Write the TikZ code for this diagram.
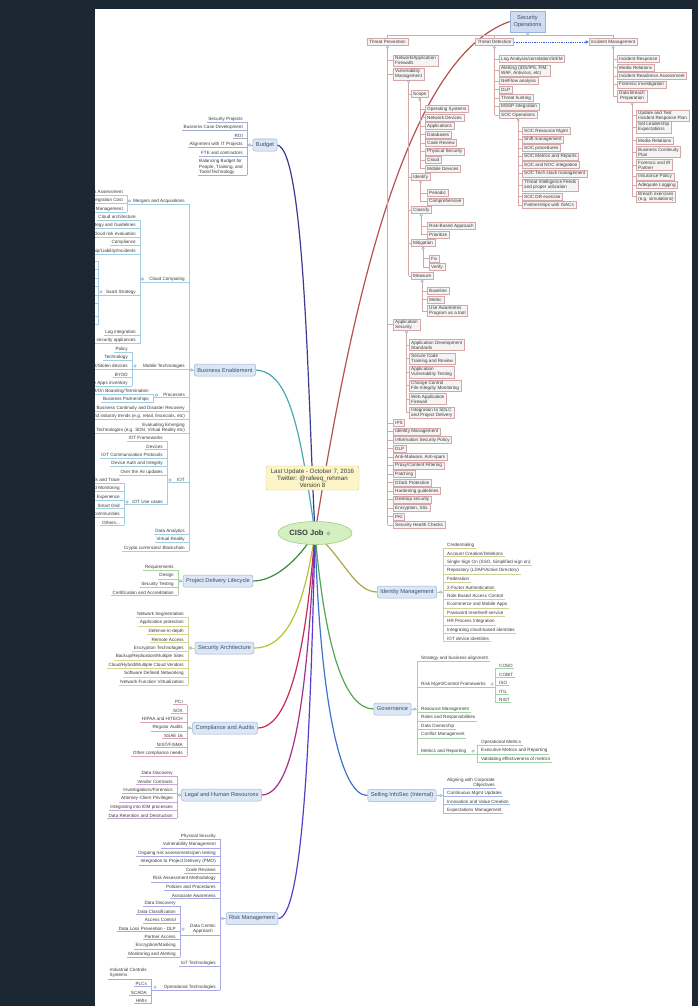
\documentclass[tikz,border=0pt]{standalone}
\usepackage{fontspec}
\setmainfont{Liberation Sans}
\usetikzlibrary{calc,arrows.meta,shapes.geometric,backgrounds}
\definecolor{bgdark}{HTML}{1B2733}
\definecolor{txt}{HTML}{3C3C3C}
\definecolor{topictxt}{HTML}{3E4E6C}
\definecolor{topicfill}{HTML}{DCE7F5}
\definecolor{topicline}{HTML}{9DB2D4}
\definecolor{soline}{HTML}{D4A8A8}
\definecolor{sofill}{HTML}{F5F3F3}
\definecolor{sotop}{HTML}{D0DDF1}
\definecolor{icoline}{HTML}{8FAAD2}
\definecolor{icofill}{HTML}{D3E0F2}
\definecolor{cBud}{HTML}{A4AECF}
\definecolor{cBE}{HTML}{A3CDE0}
\definecolor{cPD}{HTML}{ABD0A2}
\definecolor{cSA}{HTML}{D3D693}
\definecolor{cCA}{HTML}{DDA6B2}
\definecolor{cLH}{HTML}{C9A6D5}
\definecolor{cRM}{HTML}{A9A9E6}
\definecolor{cIM}{HTML}{CFD096}
\definecolor{cGV}{HTML}{A3D2A3}
\definecolor{cSI}{HTML}{A3B9E6}
\definecolor{kSO}{HTML}{B5524F}
\definecolor{kBud}{HTML}{3A3D8F}
\definecolor{kBE}{HTML}{4AA8B0}
\definecolor{kPD}{HTML}{3C8A3C}
\definecolor{kSA}{HTML}{B9C232}
\definecolor{kCA}{HTML}{C42A52}
\definecolor{kLH}{HTML}{A2308F}
\definecolor{kRM}{HTML}{5A3CC8}
\definecolor{kIM}{HTML}{A9A948}
\definecolor{kGV}{HTML}{52A852}
\definecolor{kSI}{HTML}{4272C8}
\definecolor{notefill}{HTML}{FCF5C8}
\definecolor{noteline}{HTML}{D8CB8C}
\definecolor{cisofill}{HTML}{D4EFC0}
\definecolor{cisoline}{HTML}{9FCB84}
\definecolor{arrowblue}{HTML}{3A5CCC}
\tikzset{
 itm/.style={font=\fontsize{4.6}{5.2}\selectfont, inner xsep=0.5pt, inner ysep=0.9pt, text=txt},
 bl/.style={line width=0.5pt},
 sobox/.style={draw=soline, fill=sofill, line width=0.45pt, font=\fontsize{4.6}{5.2}\selectfont, inner xsep=2pt, inner ysep=1pt, minimum height=7pt, align=left, text=txt},
 sl/.style={draw=soline, line width=0.5pt},
 topic/.style={draw=topicline, fill=topicfill, rounded corners=2pt, line width=0.5pt, font=\fontsize{5.7}{6.5}\selectfont, inner xsep=3pt, inner ysep=1pt, minimum height=12pt, text=topictxt},
 ico/.style={draw=icoline, fill=icofill, line width=0.3pt},
 bigcurve/.style={line width=1.2pt},
}
\newcommand\LI[5][]{\node[itm,anchor=east,#1] (#2) at (#3-3.5,#4) {#5};
  \draw[bl] ([xshift=-1pt]#2.south west) -- ([xshift=3.5pt]#2.south east);}
\newcommand\RI[5][]{\node[itm,anchor=west,#1] (#2) at (#3+3.5,#4) {#5};
  \draw[bl] ([xshift=-3.5pt]#2.south west) -- ([xshift=1pt]#2.south east);}
\newcommand\LT[2]{\draw[bl] ([xshift=3.5pt]#1.south east) -- ([xshift=3.5pt]#2.south east);}
\newcommand\RT[2]{\draw[bl] ([xshift=-3.5pt]#1.south west) -- ([xshift=-3.5pt]#2.south west);}
\newcommand\LX[2]{\draw[bl] (#1.south west) -- (#1.south west -| #2);}
\newcommand\RX[2]{\draw[bl] (#1.south east) -- (#1.south east -| #2);}
\newcommand\ICO[2]{\filldraw[ico] (#1,#2) circle (1.3pt);}
\newcommand\DOT[1]{\filldraw[ico] ([yshift=-1.6pt]#1.south) circle (1.3pt);}
\newcommand\SB[6][]{\node[sobox,anchor=west,#1] (#2) at (#4,#5) {#6}; \draw[sl] (#2.west) -- (#2.west -| #3.south);}
\begin{document}
\begin{tikzpicture}[x=1pt,y=-1pt]
\useasboundingbox (0,0) rectangle (698,1006);

% ================= SECURITY OPERATIONS =================
\node[sobox, draw=topicline, fill=sotop, align=center, font=\fontsize{5.7}{6.6}\selectfont, text=topictxt, minimum width=35pt, minimum height=21pt] (so) at (527.5,21.5) {Security\\Operations};
\node[sobox] (tp) at (387.5,42) {Threat Prevention};
\node[sobox] (td) at (494.5,42) {Threat Detection};
\node[sobox] (imb) at (613,42) {Incident Management};
\coordinate (soh) at (0,35.2);
\draw[sl] (so.south) -- (so.south |- soh);
\draw[sl] (tp.north |- soh) -- (imb.north |- soh);
\draw[sl] (tp.north) -- (tp.north |- soh);
\draw[sl] (td.north) -- (td.north |- soh);
\draw[sl] (imb.north) -- (imb.north |- soh);
\draw[arrowblue, dash pattern=on 1pt off 0.8pt, line width=0.6pt, -{Triangle[length=3pt,width=3pt]}] (td.east) -- (imb.west);

\SB{tp1}{tp}{393}{60.5}{Network/Application\\Firewalls}
\SB{tp2}{tp}{393}{74}{Vulnerability\\Management}
\SB{sc}{tp2}{411}{94}{Scope}
\SB{sc1}{sc}{425}{109}{Operating Systems}
\SB{sc2}{sc}{425}{117.5}{Network Devices}
\SB{sc3}{sc}{425}{126}{Applications}
\SB{sc4}{sc}{425}{134.5}{Databases}
\SB{sc5}{sc}{425}{143}{Code Review}
\SB{sc6}{sc}{425}{151.5}{Physical Security}
\SB{sc7}{sc}{425}{160}{Cloud}
\SB{sc8}{sc}{425}{168.5}{Mobile Devices}
\SB{idf}{tp2}{411}{177}{Identify}
\SB{idf1}{idf}{427}{193}{Periodic}
\SB{idf2}{idf}{427}{201.5}{Comprehensive}
\SB{cls}{tp2}{411}{210}{Classify}
\SB{cls1}{cls}{427}{226}{Risk-Based Approach}
\SB{cls2}{cls}{427}{234.5}{Prioritize}
\SB{mit}{tp2}{411}{243}{Mitigation}
\SB{mit1}{mit}{429}{258.5}{Fix}
\SB{mit2}{mit}{429}{267}{Verify}
\SB{mea}{tp2}{411}{276}{Measure}
\SB{mea1}{mea}{427}{291}{Baseline}
\SB{mea2}{mea}{427}{299.5}{Metric}
\SB{mea3}{mea}{427}{311}{Use Awareness\\Program as a tool}
\SB{as}{tp}{393}{324.5}{Application\\Security}
\SB{as1}{as}{409}{345}{Application Development\\Standards}
\SB{as2}{as}{409}{358.5}{Secure Code\\Training and Review}
\SB{as3}{as}{409}{372}{Application\\Vulnerability Testing}
\SB{as4}{as}{409}{385.5}{Change Control\\File Integrity Monitoring}
\SB{as5}{as}{409}{399}{Web Application\\Firewall}
\SB{as6}{as}{409}{412.5}{Integration to SDLC\\and Project Delivery}
\foreach \n/\y/\t in {tpa/423/{IPS},tpb/431.5/{Identity Management},tpc/440/{Information Security Policy},tpd/448.5/{DLP},tpe/457/{Anti-Malware, Anti-spam},tpf/465.5/{Proxy/Content Filtering},tpg/474/{Patching},tph/482.5/{DDoS Protection},tpi/491/{Hardening guidelines},tpj/499.5/{Desktop security},tpk/508/{Encryption, SSL},tpl/516.5/{PKI},tpm/525/{Security Health Checks}}
  {\SB{\n}{tp}{393}{\y}{\t}}
\draw[sl] (tp.south) -- (tp.south |- tpm.west);
\draw[sl] (tp2.south) -- (tp2.south |- mea.west);
\draw[sl] (sc.south) -- (sc.south |- sc8.west);
\draw[sl] (idf.south) -- (idf.south |- idf2.west);
\draw[sl] (cls.south) -- (cls.south |- cls2.west);
\draw[sl] (mit.south) -- (mit.south |- mit2.west);
\draw[sl] (mea.south) -- (mea.south |- mea3.west);
\draw[sl] (as.south) -- (as.south |- as6.west);

\SB{td1}{td}{499}{59}{Log Analysis/correlation/SIEM}
\SB{td2}{td}{499}{70.5}{Alerting (IDS/IPS, FIM,\\WAF, Antivirus, etc)}
\SB{td3}{td}{499}{81}{NetFlow analysis}
\SB{td4}{td}{499}{89.5}{DLP}
\SB{td5}{td}{499}{98}{Threat hunting}
\SB{td6}{td}{499}{106.5}{MSSP integration}
\SB{td7}{td}{499}{115}{SOC Operations}
\SB{soc1}{td7}{522}{131}{SOC Resource Mgmt}
\SB{soc2}{td7}{522}{139.5}{Shift management}
\SB{soc3}{td7}{522}{148}{SOC procedures}
\SB{soc4}{td7}{522}{156.5}{SOC Metrics and Reports}
\SB{soc5}{td7}{522}{165}{SOC and NOC integration}
\SB{soc6}{td7}{522}{173.5}{SOC Tech stack management}
\SB{soc7}{td7}{522}{185}{Threat Intelligence Feeds\\and proper utilization}
\SB{soc8}{td7}{522}{196.5}{SOC DR exercise}
\SB{soc9}{td7}{522}{205}{Partnerships with ISACs}
\draw[sl] (td.south) -- (td.south |- td7.west);
\draw[sl] (td7.south) -- (td7.south |- soc9.west);

\SB{ir1}{imb}{617}{59}{Incident Response}
\SB{ir2}{imb}{617}{67.5}{Media Relations}
\SB{ir3}{imb}{617}{76}{Incident Readiness Assessment}
\SB{ir4}{imb}{617}{84.5}{Forensic Investigation}
\SB[align=center]{ir5}{imb}{617}{96}{Data Breach\\Preparation}
\SB{db1}{ir5}{636}{115.5}{Update and Test\\Incident Response Plan}
\SB{db2}{ir5}{636}{127}{Set Leadership\\Expectations}
\SB{db3}{ir5}{636}{140.5}{Media Relations}
\SB{db4}{ir5}{636}{152}{Business Continuity\\Plan}
\SB{db5}{ir5}{636}{165}{Forensic and IR\\Partner}
\SB{db6}{ir5}{636}{176.5}{Insurance Policy}
\SB{db7}{ir5}{636}{185}{Adequate Logging}
\SB{db8}{ir5}{636}{196.5}{Breach exercises\\(e.g. simulations)}
\draw[sl] (imb.south) -- (imb.south |- ir5.west);
\draw[sl] (ir5.south) -- (ir5.south |- db8.west);
\foreach \n in {so,tp,td,imb,tp2,sc,idf,cls,mit,mea,as,td7,ir5} {\DOT{\n}}

% ================= BUDGET =================
\begin{scope}[cBud]
\coordinate (bgT) at (247,0);
\foreach \n/\y/\t in {bg1/119/{Security Projects},bg2/127.5/{Business Case Development},bg3/136/{ROI},bg4/144.5/{Alignment with IT Projects},bg5/153/{FTE and contractors}}
  {\LI{\n}{247}{\y}{\t}}
\LI[align=left]{bg6}{247}{167}{Balancing Budget for\\People, Training, and\\Tools/Technology}
\LT{bg1}{bg6}
\node[topic] (bud) at (265,145) {Budget};
\draw[bl] (bud.west) -- (bud.west -| bgT);
\ICO{249.5}{145}
\end{scope}

% ================= BUSINESS ENABLEMENT =================
\begin{scope}[cBE]
\coordinate (beT) at (189,0); \coordinate (maT) at (127,0); \coordinate (ccT) at (140,0);
\coordinate (ssT) at (98,0); \coordinate (mtT) at (132,0); \coordinate (prT) at (153,0);
\coordinate (ioT) at (167,0); \coordinate (iuT) at (124,0);
\foreach \n/\y/\t in {ma/201/{Mergers and Acquisitions},cc/279/{Cloud Computing},mt/366/{Mobile Technologies},pr/395/{Processes},be1/408/{Business Continuity and Disaster Recovery},be2/416.5/{Understand industry trends (e.g. retail, financials, etc)},io/480/{IOT},be4/531/{Data Analytics},be5/539.5/{Virtual Reality},be6/548/{Crypto currencies/ Blockchain}}
  {\LI{\n}{189}{\y}{\t}}
\LI[align=right]{be3}{189}{427.5}{Evaluating Emerging\\Technologies (e.g. SDN, Virtual Reality etc)}
\LT{ma}{be6}
\LX{ma}{maT} \LX{cc}{ccT} \LX{mt}{mtT} \LX{pr}{prT} \LX{io}{ioT}
\foreach \n/\y/\t in {ma1/192/{Acquisition Risk Assessment},ma2/200.5/{Integration Cost},ma3/209/{Identity Management}}
  {\LI{\n}{127}{\y}{\t}}
\LT{ma1}{ma3}
\foreach \n/\y/\t in {cc1/217/{Cloud architecture},cc2/225.5/{Strategy and Guidelines},cc3/234/{Cloud risk evaluation},cc4/242.5/{Compliance},cc5/251/{Ownership/Liability/Incidents},cc6/292/{SaaS Strategy},cc7/332/{Log integration},cc8/340.5/{Virtualized security appliances}}
  {\LI{\n}{140}{\y}{\t}}
\LT{cc1}{cc8}
\LX{cc6}{ssT}
\foreach \n/\y/\t in {ss1/258/{Vendor's Financial Strength},ss2/266.5/{SLAs},ss3/275/{Infrastructure Audit},ss4/283.5/{Proof of Application Security},ss5/292/{Disaster Recovery Posture},ss6/300.5/{Application Architecture},ss8/321.5/{SaaS Policy and Guidelines}}
  {\LI{\n}{98}{\y}{\t}}
\LI[align=right]{ss7}{98}{310.5}{Integration of Identity\\Management/Federation/SSO}
\LT{ss1}{ss8}
\foreach \n/\y/\t in {mt1/349/{Policy},mt2/357.5/{Technology},mt3/366/{Lost/Stolen devices},mt4/374.5/{BYOD},mt5/383/{Mobile Apps inventory}}
  {\LI{\n}{132}{\y}{\t}}
\LT{mt1}{mt5}
\foreach \n/\y/\t in {pr1/391/{HR/On Boarding/Termination},pr2/399.5/{Business Partnerships}}
  {\LI{\n}{153}{\y}{\t}}
\LT{pr1}{pr2}
\foreach \n/\y/\t in {io1/438/{IOT Frameworks},io2/446.5/{Devices},io3/455/{IOT Communication Protocols},io4/463.5/{Device Auth and Integrity},io5/472/{Over the Air updates},io6/502/{IOT Use cases}}
  {\LI{\n}{167}{\y}{\t}}
\LT{io1}{io6}
\LX{io6}{iuT}
\foreach \n/\y/\t in {iu1/480/{Track and Trace},iu2/488.5/{Condition Based Monitoring},iu3/497/{Customer Experience},iu4/505.5/{Smart Grid},iu5/514/{Smart Cities / Communities},iu6/522.5/{Others...}}
  {\LI{\n}{124}{\y}{\t}}
\LT{iu1}{iu6}
\node[topic] (be) at (225,370) {Business Enablement};
\draw[bl] (be.west) -- (be.west -| beT);
\ICO{191.5}{370} \ICO{129.5}{201} \ICO{142.5}{279} \ICO{101}{292} \ICO{135}{366}
\ICO{156.5}{395} \ICO{170}{480} \ICO{127}{502}
\end{scope}

% ================= PROJECT DELIVERY =================
\begin{scope}[cPD]
\coordinate (pdT) at (178,0);
\foreach \n/\y/\t in {pd1/567/{Requirements},pd2/575.5/{Design},pd3/584/{Security Testing},pd4/592.5/{Certification and Accreditation}}
  {\LI{\n}{178}{\y}{\t}}
\LT{pd1}{pd4}
\node[topic] (pdl) at (218,581) {Project Delivery Lifecycle};
\draw[bl] (pdl.west) -- (pdl.west -| pdT);
\ICO{180.5}{581}
\end{scope}

% ================= SECURITY ARCHITECTURE =================
\begin{scope}[cSA]
\coordinate (saT) at (188,0);
\foreach \n/\y/\t in {sa1/614/{Network Segmentation},sa2/622.5/{Application protection},sa3/631/{Defense-in-depth},sa4/639.5/{Remote Access},sa5/648/{Encryption Technologies},sa6/656.5/{Backup/Replication/Multiple Sites},sa7/665/{Cloud/Hybrid/Multiple Cloud Vendors},sa8/673.5/{Software Defined Networking},sa9/682/{Network Function Virtualization}}
  {\LI{\n}{188}{\y}{\t}}
\LT{sa1}{sa9}
\node[topic] (sa) at (224.5,648) {Security Architecture};
\draw[bl] (sa.west) -- (sa.west -| saT);
\ICO{190.5}{648}
\end{scope}

% ================= COMPLIANCE =================
\begin{scope}[cCA]
\coordinate (caT) at (187,0);
\foreach \n/\y/\t in {ca1/702/{PCI},ca2/710.5/{SOX},ca3/719/{HIPAA and HITECH},ca4/727.5/{Regular Audits},ca5/736/{SSAE 16},ca6/744.5/{NIST/FISMA},ca7/753/{Other compliance needs}}
  {\LI{\n}{187}{\y}{\t}}
\LT{ca1}{ca7}
\node[topic] (ca) at (225,728) {Compliance and Audits};
\draw[bl] (ca.west) -- (ca.west -| caT);
\ICO{189.5}{728}
\end{scope}

% ================= LEGAL =================
\begin{scope}[cLH]
\coordinate (lhT) at (177,0);
\foreach \n/\y/\t in {lh1/773/{Data Discovery},lh2/781.5/{Vendor Contracts},lh3/790/{Investigations/Forensics},lh4/798.5/{Attorney-Client Privileges},lh5/807/{Integrating into IDM processes},lh6/815.5/{Data Retention and Destruction}}
  {\LI{\n}{177}{\y}{\t}}
\LT{lh1}{lh6}
\node[topic] (lh) at (221.5,795) {Legal and Human Resources};
\draw[bl] (lh.west) -- (lh.west -| lhT);
\ICO{179.5}{795}
\end{scope}

% ================= RISK MANAGEMENT =================
\begin{scope}[cRM]
\coordinate (rmT) at (220,0); \coordinate (dcT) at (180,0); \coordinate (otT) at (151,0);
\foreach \n/\y/\t in {rm1/836/{Physical Security},rm2/844.5/{Vulnerability Management},rm3/853/{Ongoing risk assessments/pen testing},rm4/861.5/{Integration to Project Delivery (PMO)},rm5/870/{Code Reviews},rm6/878.5/{Risk Assessment Methodology},rm7/887/{Policies and Procedures},rm8/895.5/{Associate Awareness},rm10/963/{IoT Technologies},rm11/987/{Operational Technologies}}
  {\LI{\n}{220}{\y}{\t}}
\LI[align=center]{rm9}{220}{929}{Data Centric\\Approach}
\LT{rm1}{rm11}
\LX{rm9}{dcT} \LX{rm11}{otT}
\foreach \n/\y/\t in {dc1/903/{Data Discovery},dc2/911.5/{Data Classification},dc3/920/{Access Control},dc4/928.5/{Data Loss Prevention - DLP},dc5/937/{Partner Access},dc6/945.5/{Encryption/Masking},dc7/954/{Monitoring and Alerting}}
  {\LI{\n}{180}{\y}{\t}}
\LT{dc1}{dc7}
\LI[align=left]{ot1}{151}{973}{Industrial Controls\\Systems}
\foreach \n/\y/\t in {ot2/984/{PLCs},ot3/992.5/{SCADA},ot4/1001/{HMIs}}
  {\LI{\n}{151}{\y}{\t}}
\LT{ot1}{ot4}
\node[topic] (rm) at (252,918.5) {Risk Management};
\draw[bl] (rm.west) -- (rm.west -| rmT);
\ICO{222.5}{918.5} \ICO{183}{929} \ICO{155}{987}
\end{scope}

% ================= IDENTITY MANAGEMENT =================
\begin{scope}[cIM]
\coordinate (ixT) at (443,0);
\foreach \n/\y/\t in {ix1/545/{Credentialing},ix2/553.5/{Account Creation/Deletions},ix3/562/{Single Sign On (SSO, Simplified sign on)},ix4/570.5/{Repository (LDAP/Active Directory)},ix5/579/{Federation},ix6/587.5/{2-Factor Authentication},ix7/596/{Role Based Access Control},ix8/604.5/{Ecommerce and Mobile Apps},ix9/613/{Password reset/self-service},ix10/621.5/{HR Process Integration},ix11/630/{Integrating cloud-based identities},ix12/638.5/{IOT device identities}}
  {\RI{\n}{443}{\y}{\t}}
\RT{ix1}{ix12}
\node[topic] (imt) at (407,592) {Identity Management};
\draw[bl] (imt.east) -- (imt.east -| ixT);
\ICO{440.5}{592}
\end{scope}

% ================= GOVERNANCE =================
\begin{scope}[cGV]
\coordinate (gvT) at (417,0); \coordinate (rfT) at (495,0); \coordinate (mrT) at (477,0);
\foreach \n/\y/\t in {gv1/658/{Strategy and business alignment},gv2/684/{Risk Mgmt/Control Frameworks},gv3/709/{Resource Management},gv4/717.5/{Roles and Responsibilities},gv5/726/{Data Ownership},gv6/734.5/{Conflict Management},gv7/751/{Metrics and Reporting}}
  {\RI{\n}{417}{\y}{\t}}
\RT{gv1}{gv7}
\RX{gv2}{rfT} \RX{gv7}{mrT}
\foreach \n/\y/\t in {rf1/666/{COSO},rf2/674.5/{COBIT},rf3/683/{ISO},rf4/691.5/{ITIL},rf5/700/{NIST}}
  {\RI{\n}{495}{\y}{\t}}
\RT{rf1}{rf5}
\foreach \n/\y/\t in {mr1/742/{Operational Metrics},mr2/750.5/{Executive Metrics and Reporting},mr3/759/{Validating effectiveness of metrics}}
  {\RI{\n}{477}{\y}{\t}}
\RT{mr1}{mr3}
\node[topic] (gv) at (392.5,709) {Governance};
\draw[bl] (gv.east) -- (gv.east -| gvT);
\ICO{414.5}{709} \ICO{492}{684} \ICO{473}{751}
\end{scope}

% ================= SELLING INFOSEC =================
\begin{scope}[cSI]
\coordinate (siT) at (443,0);
\RI[align=right]{si1}{443}{782.5}{Aligning with Corporate\\Objectives}
\foreach \n/\y/\t in {si2/793/{Continuous Mgmt Updates},si3/801.5/{Innovation and Value Creation},si4/810/{Expectations Management}}
  {\RI{\n}{443}{\y}{\t}}
\RT{si1}{si4}
\node[topic] (si) at (402,795.5) {Selling InfoSec (Internal)};
\draw[bl] (si.east) -- (si.east -| siT);
\ICO{440.5}{795.5}
\end{scope}

% ================= CENTER =================
\node[draw=noteline, fill=notefill, rounded corners=2pt, align=center, font=\fontsize{6.2}{7.2}\selectfont, text=txt, minimum width=93pt, minimum height=24pt, inner sep=1pt] (note) at (312.5,478) {Last Update - October 7, 2016\\Twitter: @rafeeq\_rehman\\Version 8};
\node[ellipse, draw=cisoline, fill=cisofill, line width=0.6pt, minimum width=74pt, minimum height=23pt, inner sep=0pt] (ciso) at (315,533) {};
\node[font=\bfseries\fontsize{7.6}{9}\selectfont, text=txt, inner sep=0pt] (cisot) at (306.5,533) {CISO Job};
\node[circle, fill=gray!55, draw=gray!75, line width=0.3pt, inner sep=0pt, minimum size=3.6pt] (cisoi) at (328.5,533.3) {};

% ================= FRAME (viewer margins cover the image edge) =================
\fill[bgdark] (0,0) rectangle (95,1006);
\fill[bgdark] (0,0) rectangle (698,9);
\fill[bgdark] (692,0) rectangle (698,1006);

% ================= BACKGROUND + MAIN CURVES =================
\begin{scope}[on background layer]
\fill[bgdark] (0,0) rectangle (698,1006);
\fill[white] (95,9) rectangle (692,1006);
\draw[kSO, bigcurve] (ciso.center) .. controls (348,330) and (400,60) .. (so.west);
\draw[kBud, bigcurve] (bud.east) .. controls (305,150) and (308,400) .. (ciso.center);
\draw[kBE, bigcurve] (be.east) .. controls (290,372) and (300,430) .. (ciso.center);
\draw[kPD, bigcurve] (ciso.center) .. controls (298,560) and (275,581) .. (pdl.east);
\draw[kSA, bigcurve] (ciso.center) .. controls (305,600) and (290,648) .. (sa.east);
\draw[kCA, bigcurve] (ciso.center) .. controls (308,620) and (295,728) .. (ca.east);
\draw[kLH, bigcurve] (ciso.center) .. controls (309,650) and (300,795) .. (lh.east);
\draw[kRM, bigcurve] (ciso.center) .. controls (311,700) and (305,918) .. (rm.east);
\draw[kIM, bigcurve] (ciso.center) .. controls (345,560) and (355,592) .. (imt.west);
\draw[kGV, bigcurve] (ciso.center) .. controls (325,650) and (345,709) .. (gv.west);
\draw[kSI, bigcurve] (ciso.center) .. controls (320,700) and (340,796) .. (si.west);
\end{scope}
\end{tikzpicture}
\end{document}
